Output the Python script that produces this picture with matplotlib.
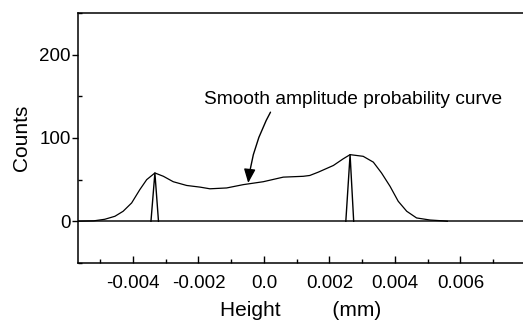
import matplotlib
matplotlib.use("Agg")
import matplotlib.pyplot as plt
from matplotlib.ticker import MultipleLocator

plt.rcParams['font.family'] = ['Liberation Sans', 'DejaVu Sans']

# smooth amplitude probability curve (height in mm, counts)
curve_x = [-0.0057, -0.0052, -0.00486, -0.00455, -0.0043, -0.00404, -0.00379, -0.00358,
           -0.00333, -0.00307, -0.00277, -0.00236, -0.00195, -0.00165, -0.00114, -0.00063,
           -0.00002, 0.00059, 0.0012, 0.0014, 0.00166, 0.00212, 0.00242, 0.00263, 0.00303,
           0.00334, 0.00359, 0.00385, 0.0041, 0.00436, 0.00466, 0.00507, 0.00547, 0.0056]
curve_y = [0, 0.5, 2.4, 6, 12, 22, 38, 50,
           58, 54, 47.5, 43, 41, 39, 40, 44,
           47.5, 53, 54, 55, 59, 67, 75, 80, 78,
           71, 58, 42, 24, 12, 4, 1.5, 0.5, 0]

# narrow spikes (histogram of the two levels)
spike_x = [-0.00345, -0.00333, -0.00322, 0.00250, 0.00263, 0.00274]
spike_y = [0, 58, 0, 0, 80, 0]

xticks = [-0.004, -0.002, 0.0, 0.002, 0.004, 0.006]
xticklabels = ['-0.004', '-0.002', '0.0', '0.002', '0.004', '0.006']
yticks = [0, 100, 200]

fig = plt.figure(figsize=(5.23, 3.27), dpi=100)
ax = fig.add_axes([0.149, 0.196, 0.851, 0.764])

ax.axhline(0, color='#333333', lw=1.3, zorder=1)
ax.plot(curve_x, curve_y, color='black', lw=0.9)
ax.plot(spike_x[:3], spike_y[:3], color='black', lw=1.0)
ax.plot(spike_x[3:], spike_y[3:], color='black', lw=1.0)

ax.set_xlim(-0.00568, 0.00791)
ax.set_ylim(-50, 250)

ax.set_xticks(xticks)
ax.set_xticklabels(xticklabels)
ax.xaxis.set_minor_locator(MultipleLocator(0.001))
ax.set_yticks(yticks)
ax.yaxis.set_minor_locator(MultipleLocator(50))

ax.tick_params(axis='x', which='major', direction='in', length=5, width=1, labelsize=13.5, pad=9)
ax.tick_params(axis='x', which='minor', direction='in', length=3, width=1)
ax.tick_params(axis='y', which='major', direction='out', length=4, width=1, labelsize=13.5, pad=1)
ax.tick_params(axis='y', which='minor', direction='in', length=3, width=1)

ax.spines['right'].set_visible(False)
for s in ['left', 'bottom', 'top']:
    ax.spines[s].set_linewidth(1.1)

ax.set_ylabel('Counts', fontsize=15, labelpad=6)
ax.set_xlabel('Height         (mm)', fontsize=15, labelpad=6)

ax.text(0.00272, 146, 'Smooth amplitude probability curve', fontsize=13.8,
        ha='center', va='center')
ax.annotate('', xy=(-0.00048, 46), xytext=(0.0002, 131),
            arrowprops=dict(arrowstyle='-|>,head_length=0.6,head_width=0.25',
                            connectionstyle='arc3,rad=0.1', color='black',
                            lw=1.0, mutation_scale=14, shrinkA=0, shrinkB=0))

fig.savefig('out.png', dpi=100)
